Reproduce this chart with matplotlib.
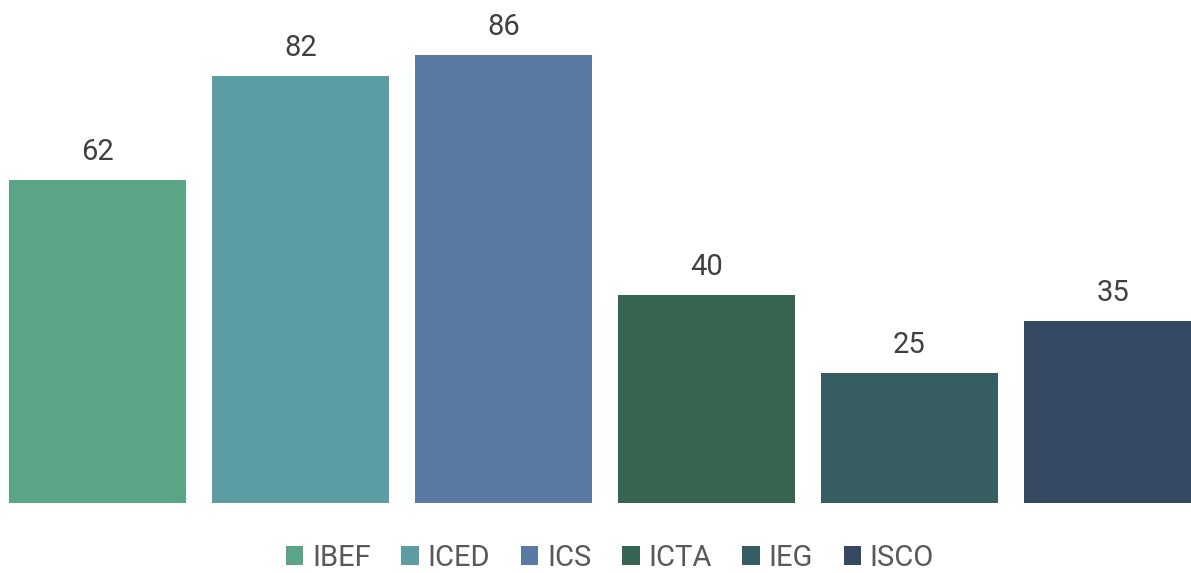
import matplotlib
matplotlib.use("Agg")
import matplotlib.pyplot as plt
from matplotlib.patches import Patch

categories = ["IBEF", "ICED", "ICS", "ICTA", "IEG", "ISCO"]
values = [62, 82, 86, 40, 25, 35]
colors = ["#5BA587", "#5B9DA2", "#5A7AA4", "#366451", "#365E62", "#364962"]

plt.rcParams['font.family'] = ['Roboto', 'DejaVu Sans']

fig = plt.figure(figsize=(11.91, 5.73), dpi=100)
ax = fig.add_axes([0, 70/573, 1, 503/573])

x = list(range(len(categories)))
ax.bar(x, values, width=177/203, color=colors)

for xi, v in zip(x, values):
    ax.text(xi, v + 2.6, str(v), ha='center', va='bottom', fontsize=21,
            color='#404040')

ax.set_xlim(-97.5/203, (1191-97.5)/203)
ax.set_ylim(0, 503/5.21)
ax.axis('off')

handles = [Patch(facecolor=c, label=n) for c, n in zip(colors, categories)]
fig.legend(handles=handles, loc='center', bbox_to_anchor=(610/1191, 1-558/573), ncol=6,
           frameon=False, prop={'size': 21}, labelcolor='#595959',
           handlelength=0.6, handleheight=0.6, handletextpad=0.3, columnspacing=1.05)

fig.savefig("out.png", dpi=100)
